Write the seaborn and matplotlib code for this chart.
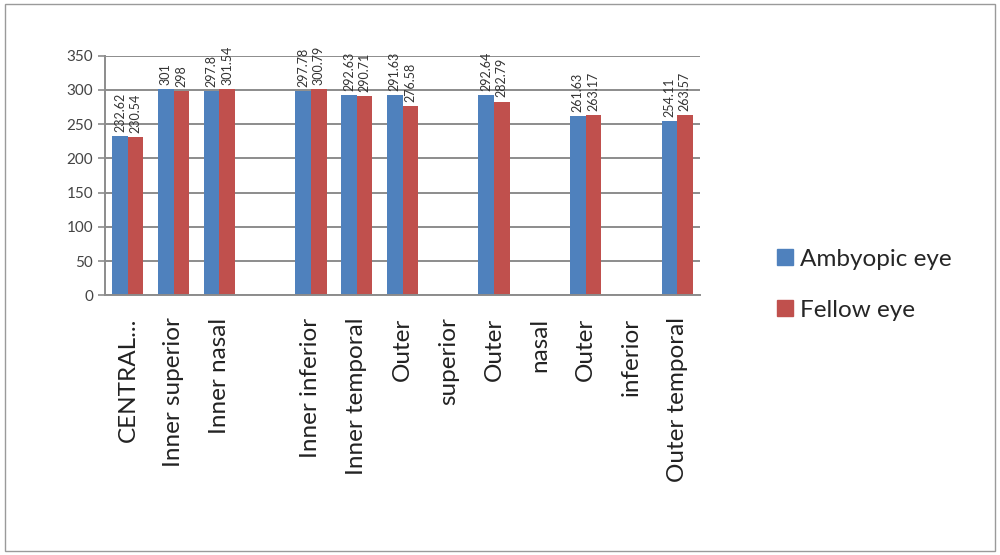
import numpy as np
import pandas as pd
import matplotlib
matplotlib.use("Agg")
import matplotlib.pyplot as plt
from matplotlib.patches import Rectangle
import seaborn as sns

categories = ["CENTRAL...", "Inner superior", "Inner nasal", "blank1",
              "Inner inferior", "Inner temporal", "Outer superior", "blank2",
              "Outer nasal", "blank3", "Outer inferior", "blank4", "Outer temporal"]
tick_labels = ["CENTRAL...", "Inner superior", "Inner nasal", "",
               "Inner inferior", "Inner temporal", "Outer", "superior",
               "Outer", "nasal", "Outer", "inferior", "Outer temporal"]
ambyopic = [232.62, 301, 297.8, np.nan, 297.78, 292.63, 291.63, np.nan,
            292.64, np.nan, 261.63, np.nan, 254.11]
fellow = [230.54, 298, 301.54, np.nan, 300.79, 290.71, 276.58, np.nan,
          282.79, np.nan, 263.17, np.nan, 263.57]
series = ["Ambyopic eye", "Fellow eye"]
colors = ["#4F81BD", "#C0504D"]
y_ticks = [0, 50, 100, 150, 200, 250, 300, 350]

df = pd.DataFrame({
    "cat": categories * 2,
    "val": ambyopic + fellow,
    "series": [series[0]] * len(categories) + [series[1]] * len(categories),
})

sns.set_style("white")
plt.rcParams["font.family"] = ["Lato", "DejaVu Sans"]

fig = plt.figure(figsize=(10, 5.55), dpi=100)
ax = fig.add_axes([0.105, 0.468, 0.595, 0.432])

sns.barplot(data=df, x="cat", y="val", hue="series", order=categories,
            hue_order=series, palette=colors, width=0.68, ax=ax,
            saturation=1, legend=False, edgecolor="none")

for cont, vals in zip(ax.containers, [ambyopic, fellow]):
    for bar in cont:
        if bar is None:
            continue
        h = bar.get_height()
        if h is None or np.isnan(h):
            continue
        ax.annotate(f"{h:g}", (bar.get_x() + bar.get_width() / 2, h),
                    xytext=(0, 3), textcoords="offset points", rotation=90,
                    ha="center", va="bottom", fontsize=9, color="#333333",
                    annotation_clip=False)

ax.set_ylim(0, 350)
ax.set_xlim(-0.5, len(categories) - 0.5)
ax.set_yticks(y_ticks)
ax.yaxis.grid(True, color="#8c8c8c", linewidth=1.4)
ax.set_axisbelow(True)
ax.set_xticks(range(len(categories)))
ax.set_xticklabels(tick_labels, rotation=90, fontsize=17.5, color="#222222")
ax.set_xticks(np.arange(-0.5, len(categories), 1), minor=True)
ax.tick_params(axis="x", which="major", length=0, pad=16)
ax.tick_params(axis="x", which="minor", length=5, color="#8c8c8c", width=1.2)
ax.tick_params(axis="y", length=5, color="#8c8c8c", width=1.2, labelsize=11,
               labelcolor="#444444", left=True)
ax.set_xlabel("")
ax.set_ylabel("")
for s in ["top", "right"]:
    ax.spines[s].set_visible(False)
for s in ["left", "bottom"]:
    ax.spines[s].set_color("#8c8c8c")
    ax.spines[s].set_linewidth(1.4)

handles = [Rectangle((0, 0), 1, 1, color=c) for c in colors]
fig.legend(handles, series, loc="center left", bbox_to_anchor=(0.755, 0.487),
           frameon=False, fontsize=17.5, handlelength=0.65, handleheight=0.65,
           handletextpad=0.3, labelspacing=1.25)

fig.patches.append(Rectangle((0.005, 0.008), 0.99, 0.984, transform=fig.transFigure,
                             fill=False, edgecolor="#9a9a9a", linewidth=1))

fig.savefig("out.png", dpi=100)
